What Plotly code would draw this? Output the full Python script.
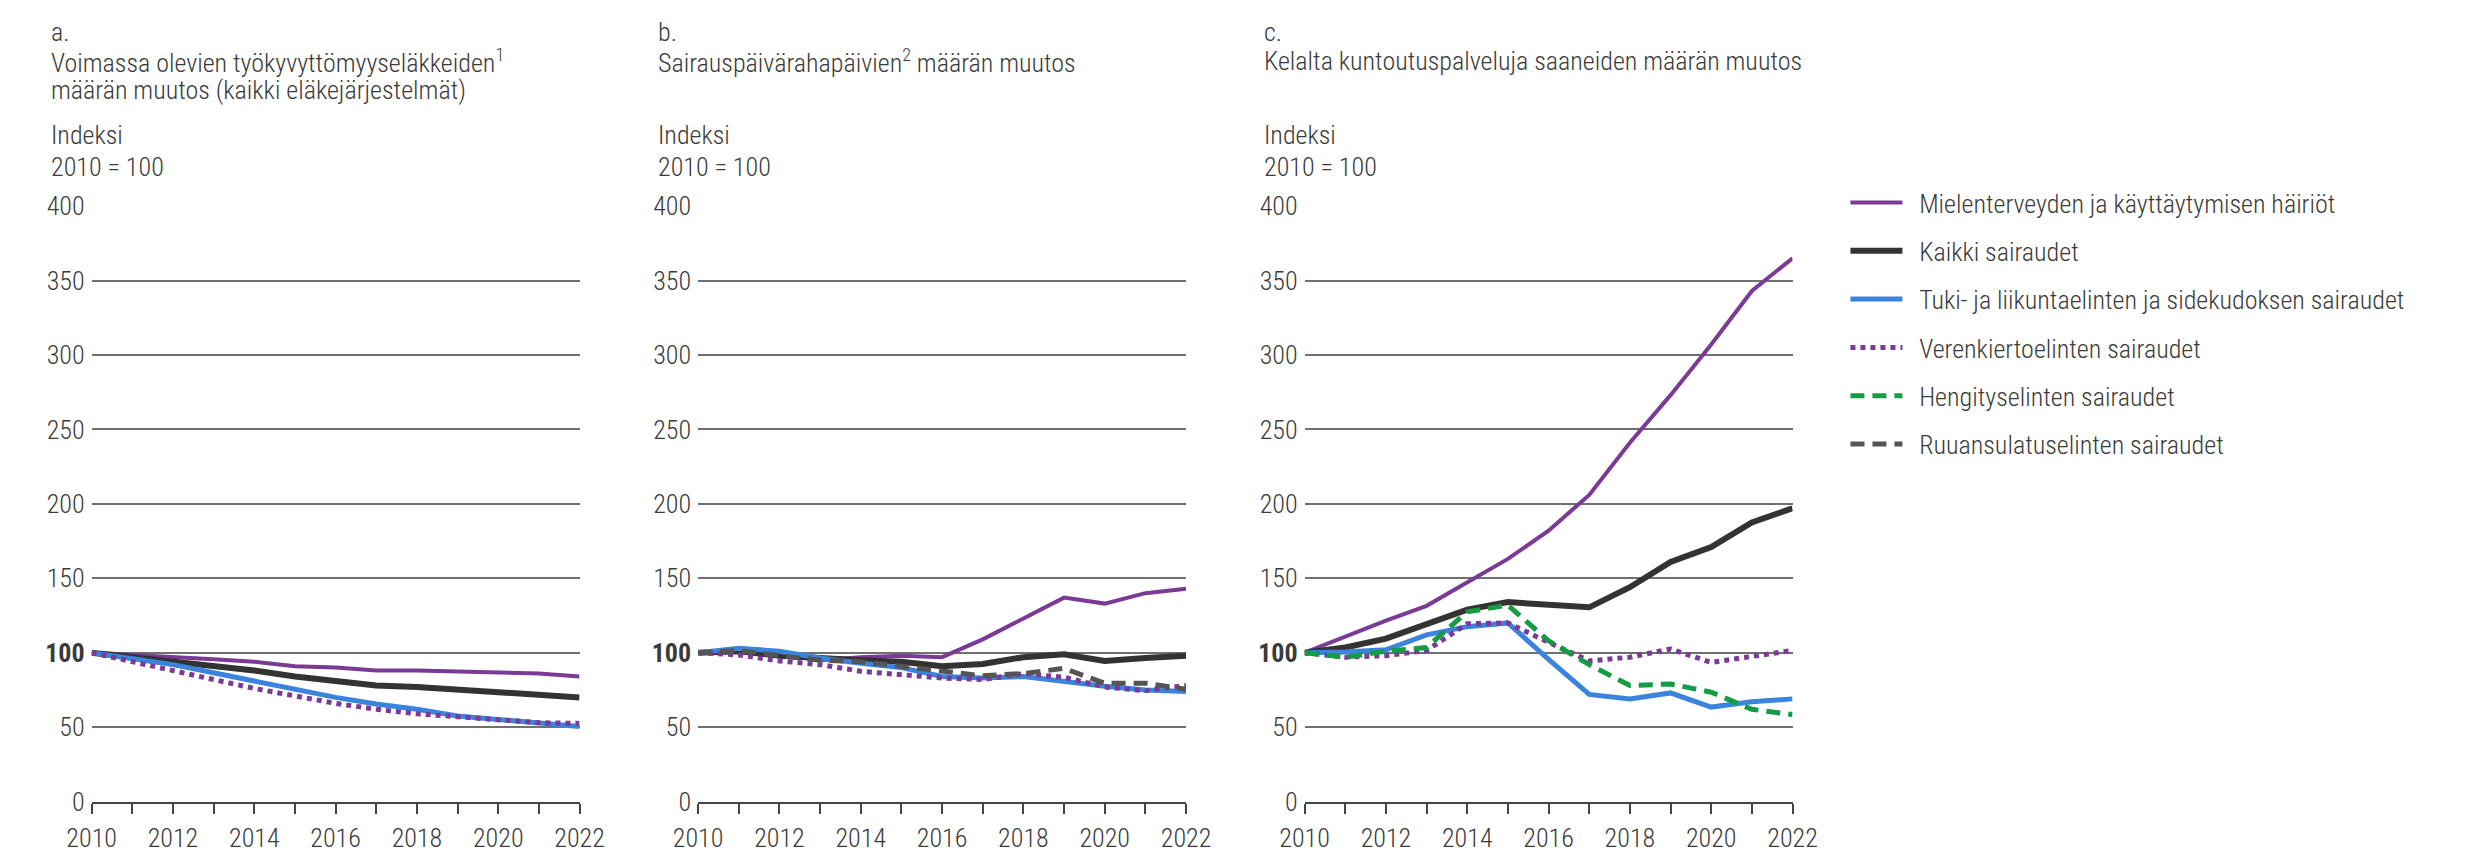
import plotly.graph_objects as go

years = list(range(2010, 2023))

# Panel a: työkyvyttömyyseläkkeet
a_mental = [100, 98.7, 97, 95.7, 94, 91, 90, 88, 88, 87.5, 87, 86, 84]
a_all = [100, 97, 94, 91, 88, 84, 81, 78, 77, 75, 74, 72, 70]
a_musc = [100, 96, 92, 86.5, 81, 75.5, 70, 65.5, 62, 57.5, 55, 52.5, 50.5]
a_circ = [100, 94, 88, 82, 76, 71, 66, 62, 59, 57, 55, 53, 52.5]

# Panel b: sairauspäivärahapäivät
b_mental = [100, 101, 99, 95, 97, 98, 97, 109, 123, 137, 133, 140, 143]
b_all = [100, 101, 98, 96, 95, 94, 91, 92.5, 97, 99, 94.5, 96.5, 98]
b_musc = [100, 103, 101, 96.5, 93, 90, 84, 83, 84, 80.5, 77.5, 75, 74]
b_circ = [100, 98.5, 94.5, 92, 87.5, 85.5, 83, 82, 86, 83.5, 77, 74.5, 78]
b_dig = [100, 101.5, 98, 95, 94, 91, 88, 84.5, 86, 89.5, 79.5, 79.5, 75.5]

# Panel c: Kelan kuntoutuspalvelut
c_mental = [100, 111, 121.5, 131.5, 147, 163, 182, 206, 241, 273, 307, 343, 365]
c_all = [100, 103.5, 109.5, 119, 129, 134, 132, 130.5, 144, 161, 171, 187.5, 197]
c_musc = [100, 100.5, 102, 112, 117.5, 120, 95.5, 72, 69, 73, 63.5, 67, 69]
c_circ = [100, 97, 98, 101.5, 119.5, 120, 107, 94.5, 97, 102.5, 93.5, 97.5, 101.5]
c_resp = [100, 97, 101, 103.5, 127.5, 132, 108, 92, 78, 79, 73.5, 62, 58.5]

series_names = [
    "Mielenterveyden ja käyttäytymisen häiriöt",
    "Kaikki sairaudet",
    "Tuki- ja liikuntaelinten ja sidekudoksen sairaudet",
    "Verenkiertoelinten sairaudet",
    "Hengityselinten sairaudet",
    "Ruuansulatuselinten sairaudet",
]

panel_titles = [
    ["a.", "Voimassa olevien työkyvyttömyyseläkkeiden<sup>1</sup>", "määrän muutos (kaikki eläkejärjestelmät)"],
    ["b.", "Sairauspäivärahapäivien<sup>2</sup> määrän muutos"],
    ["c.", "Kelalta kuntoutuspalveluja saaneiden määrän muutos"],
]
y_title = ["Indeksi", "2010 = 100"]
y_ticks = [0, 50, 100, 150, 200, 250, 300, 350, 400]
y_ticktext = ["0", "50", "<b>100</b>", "150", "200", "250", "300", "350", "400"]
x_ticktext = [str(y) if y % 2 == 0 else "" for y in years]

FONT = "Roboto Condensed, Liberation Sans Narrow, DejaVu Sans Condensed, sans-serif"
FS = 26
TXT = "#3a3a3a"
W, H = 2473, 861
PAD = "\u00a0\u00a0"  # spacing between legend sample and its label


def tfont(size=FS, color=TXT):
    return dict(family=FONT, size=size, color=color, weight=300)


styles = {
    0: dict(color="#7B3A96", width=4, dash="solid"),
    1: dict(color="#333333", width=6, dash="solid"),
    2: dict(color="#3A84DE", width=5, dash="solid"),
    3: dict(color="#7B3A96", width=5, dash="5px,5px"),
    4: dict(color="#169B45", width=5, dash="14px,8px"),
    5: dict(color="#555555", width=5, dash="14px,8px"),
}

panels = [
    {0: a_mental, 1: a_all, 2: a_musc, 3: a_circ},
    {0: b_mental, 1: b_all, 2: b_musc, 3: b_circ, 5: b_dig},
    {0: c_mental, 1: c_all, 2: c_musc, 3: c_circ, 4: c_resp},
]

plot_left = [68, 687, 1306]
plot_w = 498
y_top, y_bot = 198, 815

fig = go.Figure()
shown = set()
for p, data in enumerate(panels):
    ax = "" if p == 0 else str(p + 1)
    for s in range(6):
        if s not in data:
            continue
        st = styles[s]
        fig.add_trace(go.Scatter(
            x=years, y=data[s], mode="lines",
            name=PAD + series_names[s], legendgroup=series_names[s], legendrank=s + 1,
            showlegend=s not in shown,
            line=dict(color=st["color"], width=st["width"], dash=st["dash"]),
            xaxis="x" + ax, yaxis="y" + ax, hoverinfo="x+y+name",
        ))
        shown.add(s)

layout = dict(
    width=W, height=H, margin=dict(l=0, r=0, t=0, b=0),
    paper_bgcolor="white", plot_bgcolor="white",
    font=tfont(),
    legend=dict(x=1858 / W, y=1 - 170 / H, xanchor="left", yanchor="top",
                font=tfont(), tracegroupgap=11.5, itemwidth=52,
                bgcolor="rgba(0,0,0,0)"),
    showlegend=True,
)
annotations = []
for p in range(3):
    ax = "" if p == 0 else str(p + 1)
    x0 = plot_left[p] / W
    x1 = (plot_left[p] + plot_w) / W
    layout["xaxis" + ax] = dict(
        domain=[x0, x1], range=[2010, 2022], anchor="y" + ax,
        tickmode="array", tickvals=years, ticktext=x_ticktext,
        ticks="outside", ticklen=10, tickwidth=1.5, tickcolor="#444444",
        showline=True, linecolor="#444444", linewidth=2,
        showgrid=False, zeroline=False, ticklabelstandoff=2,
        tickfont=tfont(),
    )
    layout["yaxis" + ax] = dict(
        domain=[1 - y_bot / H, 1 - y_top / H], range=[0, 400], anchor="x" + ax,
        tickmode="array", tickvals=y_ticks, ticktext=y_ticktext,
        showgrid=True, gridcolor="#707070", gridwidth=1.5,
        zeroline=False, showline=False, ticks="", ticklabelstandoff=6,
        tickfont=tfont(),
    )
    tx = (plot_left[p] - 43) / W
    tys = [18, 48, 78]
    for i, line in enumerate(panel_titles[p]):
        annotations.append(dict(text=line, x=tx, y=1 - tys[i] / H, xref="paper", yref="paper",
                                xanchor="left", yanchor="middle", showarrow=False,
                                font=tfont()))
    for i, line in enumerate(y_title):
        annotations.append(dict(text=line, x=tx, y=1 - [124, 157][i] / H, xref="paper", yref="paper",
                                xanchor="left", yanchor="middle", showarrow=False,
                                font=tfont()))
layout["annotations"] = annotations
fig.update_layout(**layout)
fig.write_html(
    "out.html",
    config={"displayModeBar": False},
    post_script="document.body.style.margin='0';document.body.style.overflow='hidden';",
)
